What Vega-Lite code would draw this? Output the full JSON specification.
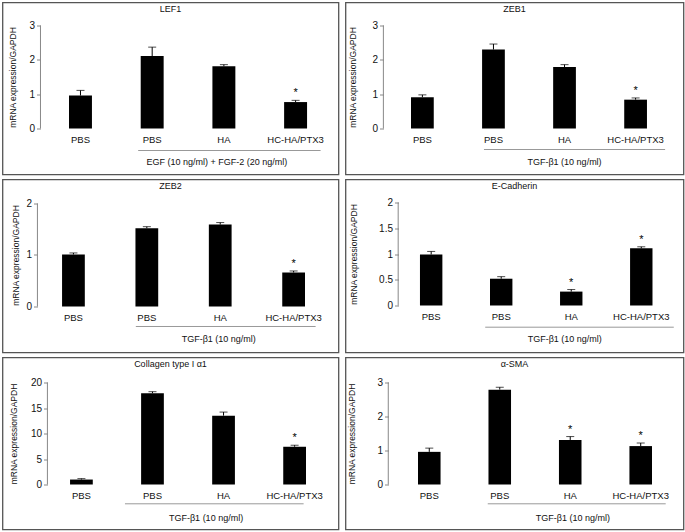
{
  "$schema": "https://vega.github.io/schema/vega-lite/v6.json",
  "padding": {"left": 1.5, "top": 1.5, "right": 0, "bottom": 0},
  "spacing": 3,
  "datasets": {
    "bars": [
      {"gene": "LEF1", "sample": "PBS control", "value": 0.96, "upper": 1.11, "sig": ""},
      {"gene": "LEF1", "sample": "PBS", "value": 2.11, "upper": 2.37, "sig": ""},
      {"gene": "LEF1", "sample": "HA", "value": 1.81, "upper": 1.86, "sig": ""},
      {"gene": "LEF1", "sample": "HC-HA/PTX3", "value": 0.77, "upper": 0.82, "sig": "*"},
      {"gene": "ZEB1", "sample": "PBS control", "value": 0.91, "upper": 0.98, "sig": ""},
      {"gene": "ZEB1", "sample": "PBS", "value": 2.30, "upper": 2.46, "sig": ""},
      {"gene": "ZEB1", "sample": "HA", "value": 1.79, "upper": 1.86, "sig": ""},
      {"gene": "ZEB1", "sample": "HC-HA/PTX3", "value": 0.84, "upper": 0.89, "sig": "*"},
      {"gene": "ZEB2", "sample": "PBS control", "value": 1.01, "upper": 1.04, "sig": ""},
      {"gene": "ZEB2", "sample": "PBS", "value": 1.52, "upper": 1.55, "sig": ""},
      {"gene": "ZEB2", "sample": "HA", "value": 1.59, "upper": 1.63, "sig": ""},
      {"gene": "ZEB2", "sample": "HC-HA/PTX3", "value": 0.66, "upper": 0.69, "sig": "*"},
      {"gene": "E-Cadherin", "sample": "PBS control", "value": 0.99, "upper": 1.05, "sig": ""},
      {"gene": "E-Cadherin", "sample": "PBS", "value": 0.52, "upper": 0.56, "sig": ""},
      {"gene": "E-Cadherin", "sample": "HA", "value": 0.27, "upper": 0.31, "sig": "*"},
      {"gene": "E-Cadherin", "sample": "HC-HA/PTX3", "value": 1.11, "upper": 1.14, "sig": "*"},
      {"gene": "Collagen type I α1", "sample": "PBS control", "value": 0.97, "upper": 1.15, "sig": ""},
      {"gene": "Collagen type I α1", "sample": "PBS", "value": 17.9, "upper": 18.2, "sig": ""},
      {"gene": "Collagen type I α1", "sample": "HA", "value": 13.5, "upper": 14.2, "sig": ""},
      {"gene": "Collagen type I α1", "sample": "HC-HA/PTX3", "value": 7.4, "upper": 7.7, "sig": "*"},
      {"gene": "α-SMA", "sample": "PBS control", "value": 0.96, "upper": 1.07, "sig": ""},
      {"gene": "α-SMA", "sample": "PBS", "value": 2.79, "upper": 2.86, "sig": ""},
      {"gene": "α-SMA", "sample": "HA", "value": 1.31, "upper": 1.41, "sig": "*"},
      {"gene": "α-SMA", "sample": "HC-HA/PTX3", "value": 1.13, "upper": 1.22, "sig": "*"}
    ],
    "groups": [
      {"gene": "LEF1", "label": "EGF (10 ng/ml) + FGF-2 (20 ng/ml)", "from": "PBS", "to": "HC-HA/PTX3", "mid": "HA", "first": "PBS control", "axisMin": 0, "axisMax": 3},
      {"gene": "ZEB1", "label": "TGF-β1 (10 ng/ml)", "from": "PBS", "to": "HC-HA/PTX3", "mid": "HA", "first": "PBS control", "axisMin": 0, "axisMax": 3},
      {"gene": "ZEB2", "label": "TGF-β1 (10 ng/ml)", "from": "PBS", "to": "HC-HA/PTX3", "mid": "HA", "first": "PBS control", "axisMin": 0, "axisMax": 2},
      {"gene": "E-Cadherin", "label": "TGF-β1 (10 ng/ml)", "from": "PBS", "to": "HC-HA/PTX3", "mid": "HA", "first": "PBS control", "axisMin": 0, "axisMax": 2},
      {"gene": "Collagen type I α1", "label": "TGF-β1 (10 ng/ml)", "from": "PBS", "to": "HC-HA/PTX3", "mid": "HA", "first": "PBS control", "axisMin": 0, "axisMax": 20},
      {"gene": "α-SMA", "label": "TGF-β1 (10 ng/ml)", "from": "PBS", "to": "HC-HA/PTX3", "mid": "HA", "first": "PBS control", "axisMin": 0, "axisMax": 3}
    ]
  },
  "vconcat": [
    {
      "hconcat": [
        {
          "width": 336, "height": 172, "title": "LEF1",
          "layer": [
            {"data": {"name": "bars"}, "transform": [{"filter": "datum.gene === 'LEF1'"}],
             "mark": {"type": "bar", "color": "#000"},
             "encoding": {
               "x": {"field": "sample", "type": "nominal", "title": null, "scale": {"domain": ["PBS control", "PBS", "HA", "HC-HA/PTX3"], "paddingInner": 0.68, "paddingOuter": 0.683, "align": 0.679}, "axis": {"offset": -46, "labelExpr": "datum.label === 'PBS control' ? 'PBS' : datum.label"}},
               "y": {"field": "value", "type": "quantitative", "title": "mRNA expression/GAPDH", "scale": {"domain": [-1.3398, 3.6699], "nice": false, "zero": false}, "axis": {"offset": -38, "values": [0, 1, 2, 3], "format": "~g", "titleX": -28, "titleY": 74.5}}
             }},
            {"data": {"name": "groups"}, "transform": [{"filter": "datum.gene === 'LEF1'"}],
             "mark": {"type": "rule", "color": "#888", "strokeWidth": 1, "xOffset": -40},
             "encoding": {"x": {"field": "first", "type": "nominal"}, "y": {"field": "axisMin", "type": "quantitative"}, "y2": {"field": "axisMax"}}},
            {"data": {"name": "bars"}, "transform": [{"filter": "datum.gene === 'LEF1'"}],
             "mark": {"type": "rule", "color": "#000", "strokeWidth": 1},
             "encoding": {"x": {"field": "sample", "type": "nominal"}, "y": {"field": "value", "type": "quantitative"}, "y2": {"field": "upper"}}},
            {"data": {"name": "bars"}, "transform": [{"filter": "datum.gene === 'LEF1'"}],
             "mark": {"type": "tick", "color": "#000", "size": 8, "thickness": 1},
             "encoding": {"x": {"field": "sample", "type": "nominal"}, "y": {"field": "upper", "type": "quantitative"}}},
            {"data": {"name": "bars"}, "transform": [{"filter": "datum.gene === 'LEF1'"}],
             "mark": {"type": "text", "color": "#000", "fontSize": 11, "dy": -4, "baseline": "alphabetic"},
             "encoding": {"x": {"field": "sample", "type": "nominal"}, "y": {"field": "upper", "type": "quantitative"}, "text": {"field": "sig"}}},
            {"data": {"name": "groups"}, "transform": [{"filter": "datum.gene === 'LEF1'"}],
             "mark": {"type": "rule", "color": "#999", "strokeWidth": 1, "yOffset": 22, "xOffset": -14, "x2Offset": 25},
             "encoding": {"x": {"field": "from", "type": "nominal"}, "x2": {"field": "to"}, "y": {"field": "axisMin", "type": "quantitative"}}},
            {"data": {"name": "groups"}, "transform": [{"filter": "datum.gene === 'LEF1'"}],
             "mark": {"type": "text", "color": "#111", "fontSize": 9, "yOffset": 33, "dx": -7, "baseline": "middle"},
             "encoding": {"x": {"field": "mid", "type": "nominal"}, "y": {"field": "axisMin", "type": "quantitative"}, "text": {"field": "label"}}}
          ]
        },
        {
          "width": 338, "height": 172, "title": "ZEB1",
          "layer": [
            {"data": {"name": "bars"}, "transform": [{"filter": "datum.gene === 'ZEB1'"}],
             "mark": {"type": "bar", "color": "#000"},
             "encoding": {
               "x": {"field": "sample", "type": "nominal", "title": null, "scale": {"domain": ["PBS control", "PBS", "HA", "HC-HA/PTX3"], "paddingInner": 0.68, "paddingOuter": 0.718, "align": 0.642}, "axis": {"offset": -46, "labelExpr": "datum.label === 'PBS control' ? 'PBS' : datum.label"}},
               "y": {"field": "value", "type": "quantitative", "title": "mRNA expression/GAPDH", "scale": {"domain": [-1.3398, 3.6699], "nice": false, "zero": false}, "axis": {"offset": -38, "values": [0, 1, 2, 3], "format": "~g", "titleX": -31, "titleY": 74.5}}
             }},
            {"data": {"name": "groups"}, "transform": [{"filter": "datum.gene === 'ZEB1'"}],
             "mark": {"type": "rule", "color": "#888", "strokeWidth": 1, "xOffset": -39},
             "encoding": {"x": {"field": "first", "type": "nominal"}, "y": {"field": "axisMin", "type": "quantitative"}, "y2": {"field": "axisMax"}}},
            {"data": {"name": "bars"}, "transform": [{"filter": "datum.gene === 'ZEB1'"}],
             "mark": {"type": "rule", "color": "#000", "strokeWidth": 1},
             "encoding": {"x": {"field": "sample", "type": "nominal"}, "y": {"field": "value", "type": "quantitative"}, "y2": {"field": "upper"}}},
            {"data": {"name": "bars"}, "transform": [{"filter": "datum.gene === 'ZEB1'"}],
             "mark": {"type": "tick", "color": "#000", "size": 8, "thickness": 1},
             "encoding": {"x": {"field": "sample", "type": "nominal"}, "y": {"field": "upper", "type": "quantitative"}}},
            {"data": {"name": "bars"}, "transform": [{"filter": "datum.gene === 'ZEB1'"}],
             "mark": {"type": "text", "color": "#000", "fontSize": 11, "dy": -4, "baseline": "alphabetic"},
             "encoding": {"x": {"field": "sample", "type": "nominal"}, "y": {"field": "upper", "type": "quantitative"}, "text": {"field": "sig"}}},
            {"data": {"name": "groups"}, "transform": [{"filter": "datum.gene === 'ZEB1'"}],
             "mark": {"type": "rule", "color": "#999", "strokeWidth": 1, "yOffset": 21, "xOffset": -9.5, "x2Offset": 29.5},
             "encoding": {"x": {"field": "from", "type": "nominal"}, "x2": {"field": "to"}, "y": {"field": "axisMin", "type": "quantitative"}}},
            {"data": {"name": "groups"}, "transform": [{"filter": "datum.gene === 'ZEB1'"}],
             "mark": {"type": "text", "color": "#111", "fontSize": 9, "yOffset": 33, "dx": 0, "baseline": "middle"},
             "encoding": {"x": {"field": "mid", "type": "nominal"}, "y": {"field": "axisMin", "type": "quantitative"}, "text": {"field": "label"}}}
          ]
        }
      ],
      "spacing": 5
    },
    {
      "hconcat": [
        {
          "width": 336, "height": 173, "title": "ZEB2",
          "layer": [
            {"data": {"name": "bars"}, "transform": [{"filter": "datum.gene === 'ZEB2'"}],
             "mark": {"type": "bar", "color": "#000"},
             "encoding": {
               "x": {"field": "sample", "type": "nominal", "title": null, "scale": {"domain": ["PBS control", "PBS", "HA", "HC-HA/PTX3"], "paddingInner": 0.69, "paddingOuter": 0.634, "align": 0.64}, "axis": {"offset": -46, "labelExpr": "datum.label === 'PBS control' ? 'PBS' : datum.label"}},
               "y": {"field": "value", "type": "quantitative", "title": "mRNA expression/GAPDH", "scale": {"domain": [-0.8932, 2.466], "nice": false, "zero": false}, "axis": {"offset": -35, "values": [0, 1, 2], "format": "~g", "titleX": -22, "titleY": 75.5}}
             }},
            {"data": {"name": "groups"}, "transform": [{"filter": "datum.gene === 'ZEB2'"}],
             "mark": {"type": "rule", "color": "#888", "strokeWidth": 1, "xOffset": -36},
             "encoding": {"x": {"field": "first", "type": "nominal"}, "y": {"field": "axisMin", "type": "quantitative"}, "y2": {"field": "axisMax"}}},
            {"data": {"name": "bars"}, "transform": [{"filter": "datum.gene === 'ZEB2'"}],
             "mark": {"type": "rule", "color": "#000", "strokeWidth": 1},
             "encoding": {"x": {"field": "sample", "type": "nominal"}, "y": {"field": "value", "type": "quantitative"}, "y2": {"field": "upper"}}},
            {"data": {"name": "bars"}, "transform": [{"filter": "datum.gene === 'ZEB2'"}],
             "mark": {"type": "tick", "color": "#000", "size": 8, "thickness": 1},
             "encoding": {"x": {"field": "sample", "type": "nominal"}, "y": {"field": "upper", "type": "quantitative"}}},
            {"data": {"name": "bars"}, "transform": [{"filter": "datum.gene === 'ZEB2'"}],
             "mark": {"type": "text", "color": "#000", "fontSize": 11, "dy": -4, "baseline": "alphabetic"},
             "encoding": {"x": {"field": "sample", "type": "nominal"}, "y": {"field": "upper", "type": "quantitative"}, "text": {"field": "sig"}}},
            {"data": {"name": "groups"}, "transform": [{"filter": "datum.gene === 'ZEB2'"}],
             "mark": {"type": "rule", "color": "#999", "strokeWidth": 1, "yOffset": 20, "xOffset": -11, "x2Offset": 22},
             "encoding": {"x": {"field": "from", "type": "nominal"}, "x2": {"field": "to"}, "y": {"field": "axisMin", "type": "quantitative"}}},
            {"data": {"name": "groups"}, "transform": [{"filter": "datum.gene === 'ZEB2'"}],
             "mark": {"type": "text", "color": "#111", "fontSize": 9, "yOffset": 33, "dx": -1.5, "baseline": "middle"},
             "encoding": {"x": {"field": "mid", "type": "nominal"}, "y": {"field": "axisMin", "type": "quantitative"}, "text": {"field": "label"}}}
          ]
        },
        {
          "width": 338, "height": 173, "title": "E-Cadherin",
          "layer": [
            {"data": {"name": "bars"}, "transform": [{"filter": "datum.gene === 'E-Cadherin'"}],
             "mark": {"type": "bar", "color": "#000"},
             "encoding": {
               "x": {"field": "sample", "type": "nominal", "title": null, "scale": {"domain": ["PBS control", "PBS", "HA", "HC-HA/PTX3"], "paddingInner": 0.68, "paddingOuter": 0.753, "align": 0.706}, "axis": {"offset": -47, "labelExpr": "datum.label === 'PBS control' ? 'PBS' : datum.label"}},
               "y": {"field": "value", "type": "quantitative", "title": "mRNA expression/GAPDH", "scale": {"domain": [-0.9126, 2.4466], "nice": false, "zero": false}, "axis": {"offset": -53, "values": [0, 0.5, 1, 1.5, 2], "format": "~g", "titleX": -45.5, "titleY": 74.5}}
             }},
            {"data": {"name": "groups"}, "transform": [{"filter": "datum.gene === 'E-Cadherin'"}],
             "mark": {"type": "rule", "color": "#888", "strokeWidth": 1, "xOffset": -33},
             "encoding": {"x": {"field": "first", "type": "nominal"}, "y": {"field": "axisMin", "type": "quantitative"}, "y2": {"field": "axisMax"}}},
            {"data": {"name": "bars"}, "transform": [{"filter": "datum.gene === 'E-Cadherin'"}],
             "mark": {"type": "rule", "color": "#000", "strokeWidth": 1},
             "encoding": {"x": {"field": "sample", "type": "nominal"}, "y": {"field": "value", "type": "quantitative"}, "y2": {"field": "upper"}}},
            {"data": {"name": "bars"}, "transform": [{"filter": "datum.gene === 'E-Cadherin'"}],
             "mark": {"type": "tick", "color": "#000", "size": 8, "thickness": 1},
             "encoding": {"x": {"field": "sample", "type": "nominal"}, "y": {"field": "upper", "type": "quantitative"}}},
            {"data": {"name": "bars"}, "transform": [{"filter": "datum.gene === 'E-Cadherin'"}],
             "mark": {"type": "text", "color": "#000", "fontSize": 11, "dy": -4, "baseline": "alphabetic"},
             "encoding": {"x": {"field": "sample", "type": "nominal"}, "y": {"field": "upper", "type": "quantitative"}, "text": {"field": "sig"}}},
            {"data": {"name": "groups"}, "transform": [{"filter": "datum.gene === 'E-Cadherin'"}],
             "mark": {"type": "rule", "color": "#999", "strokeWidth": 1, "yOffset": 21.7, "xOffset": -16, "x2Offset": 32.5},
             "encoding": {"x": {"field": "from", "type": "nominal"}, "x2": {"field": "to"}, "y": {"field": "axisMin", "type": "quantitative"}}},
            {"data": {"name": "groups"}, "transform": [{"filter": "datum.gene === 'E-Cadherin'"}],
             "mark": {"type": "text", "color": "#111", "fontSize": 9, "yOffset": 33, "dx": -6.5, "baseline": "middle"},
             "encoding": {"x": {"field": "mid", "type": "nominal"}, "y": {"field": "axisMin", "type": "quantitative"}, "text": {"field": "label"}}}
          ]
        }
      ],
      "spacing": 5
    },
    {
      "hconcat": [
        {
          "width": 336, "height": 172, "title": "Collagen type I α1",
          "layer": [
            {"data": {"name": "bars"}, "transform": [{"filter": "datum.gene === 'Collagen type I α1'"}],
             "mark": {"type": "bar", "color": "#000"},
             "encoding": {
               "x": {"field": "sample", "type": "nominal", "title": null, "scale": {"domain": ["PBS control", "PBS", "HA", "HC-HA/PTX3"], "paddingInner": 0.68, "paddingOuter": 0.704, "align": 0.675}, "axis": {"offset": -45, "labelExpr": "datum.label === 'PBS control' ? 'PBS' : datum.label"}},
               "y": {"field": "value", "type": "quantitative", "title": "mRNA expression/GAPDH", "scale": {"domain": [-8.8235, 24.902], "nice": false, "zero": false}, "axis": {"offset": -45, "values": [0, 5, 10, 15, 20], "format": "~g", "titleX": -34.5, "titleY": 76}}
             }},
            {"data": {"name": "groups"}, "transform": [{"filter": "datum.gene === 'Collagen type I α1'"}],
             "mark": {"type": "rule", "color": "#888", "strokeWidth": 1, "xOffset": -34},
             "encoding": {"x": {"field": "first", "type": "nominal"}, "y": {"field": "axisMin", "type": "quantitative"}, "y2": {"field": "axisMax"}}},
            {"data": {"name": "bars"}, "transform": [{"filter": "datum.gene === 'Collagen type I α1'"}],
             "mark": {"type": "rule", "color": "#000", "strokeWidth": 1},
             "encoding": {"x": {"field": "sample", "type": "nominal"}, "y": {"field": "value", "type": "quantitative"}, "y2": {"field": "upper"}}},
            {"data": {"name": "bars"}, "transform": [{"filter": "datum.gene === 'Collagen type I α1'"}],
             "mark": {"type": "tick", "color": "#000", "size": 8, "thickness": 1},
             "encoding": {"x": {"field": "sample", "type": "nominal"}, "y": {"field": "upper", "type": "quantitative"}}},
            {"data": {"name": "bars"}, "transform": [{"filter": "datum.gene === 'Collagen type I α1'"}],
             "mark": {"type": "text", "color": "#000", "fontSize": 11, "dy": -4, "baseline": "alphabetic"},
             "encoding": {"x": {"field": "sample", "type": "nominal"}, "y": {"field": "upper", "type": "quantitative"}, "text": {"field": "sig"}}},
            {"data": {"name": "groups"}, "transform": [{"filter": "datum.gene === 'Collagen type I α1'"}],
             "mark": {"type": "rule", "color": "#999", "strokeWidth": 1, "yOffset": 19.3, "xOffset": -27.5, "x2Offset": 9},
             "encoding": {"x": {"field": "from", "type": "nominal"}, "x2": {"field": "to"}, "y": {"field": "axisMin", "type": "quantitative"}}},
            {"data": {"name": "groups"}, "transform": [{"filter": "datum.gene === 'Collagen type I α1'"}],
             "mark": {"type": "text", "color": "#111", "fontSize": 9, "yOffset": 33, "dx": -17.5, "baseline": "middle"},
             "encoding": {"x": {"field": "mid", "type": "nominal"}, "y": {"field": "axisMin", "type": "quantitative"}, "text": {"field": "label"}}}
          ]
        },
        {
          "width": 338, "height": 172, "title": "α-SMA",
          "layer": [
            {"data": {"name": "bars"}, "transform": [{"filter": "datum.gene === 'α-SMA'"}],
             "mark": {"type": "bar", "color": "#000"},
             "encoding": {
               "x": {"field": "sample", "type": "nominal", "title": null, "scale": {"domain": ["PBS control", "PBS", "HA", "HC-HA/PTX3"], "paddingInner": 0.68, "paddingOuter": 0.738, "align": 0.697}, "axis": {"offset": -45, "labelExpr": "datum.label === 'PBS control' ? 'PBS' : datum.label"}},
               "y": {"field": "value", "type": "quantitative", "title": "mRNA expression/GAPDH", "scale": {"domain": [-1.3235, 3.7353], "nice": false, "zero": false}, "axis": {"offset": -43, "values": [0, 1, 2, 3], "format": "~g", "titleX": -37, "titleY": 76}}
             }},
            {"data": {"name": "groups"}, "transform": [{"filter": "datum.gene === 'α-SMA'"}],
             "mark": {"type": "rule", "color": "#888", "strokeWidth": 1, "xOffset": -41},
             "encoding": {"x": {"field": "first", "type": "nominal"}, "y": {"field": "axisMin", "type": "quantitative"}, "y2": {"field": "axisMax"}}},
            {"data": {"name": "bars"}, "transform": [{"filter": "datum.gene === 'α-SMA'"}],
             "mark": {"type": "rule", "color": "#000", "strokeWidth": 1},
             "encoding": {"x": {"field": "sample", "type": "nominal"}, "y": {"field": "value", "type": "quantitative"}, "y2": {"field": "upper"}}},
            {"data": {"name": "bars"}, "transform": [{"filter": "datum.gene === 'α-SMA'"}],
             "mark": {"type": "tick", "color": "#000", "size": 8, "thickness": 1},
             "encoding": {"x": {"field": "sample", "type": "nominal"}, "y": {"field": "upper", "type": "quantitative"}}},
            {"data": {"name": "bars"}, "transform": [{"filter": "datum.gene === 'α-SMA'"}],
             "mark": {"type": "text", "color": "#000", "fontSize": 11, "dy": -4, "baseline": "alphabetic"},
             "encoding": {"x": {"field": "sample", "type": "nominal"}, "y": {"field": "upper", "type": "quantitative"}, "text": {"field": "sig"}}},
            {"data": {"name": "groups"}, "transform": [{"filter": "datum.gene === 'α-SMA'"}],
             "mark": {"type": "rule", "color": "#999", "strokeWidth": 1, "yOffset": 19.3, "xOffset": -12, "x2Offset": 25},
             "encoding": {"x": {"field": "from", "type": "nominal"}, "x2": {"field": "to"}, "y": {"field": "axisMin", "type": "quantitative"}}},
            {"data": {"name": "groups"}, "transform": [{"filter": "datum.gene === 'α-SMA'"}],
             "mark": {"type": "text", "color": "#111", "fontSize": 9, "yOffset": 33, "dx": 2.7, "baseline": "middle"},
             "encoding": {"x": {"field": "mid", "type": "nominal"}, "y": {"field": "axisMin", "type": "quantitative"}, "text": {"field": "label"}}}
          ]
        }
      ],
      "spacing": 5
    }
  ],
  "config": {
    "font": "Liberation Sans",
    "view": {"stroke": "#555", "strokeWidth": 1.3},
    "axis": {"grid": false, "labelFont": "Liberation Sans", "titleFont": "Liberation Sans", "labelColor": "#111", "titleColor": "#111", "domainColor": "#888", "tickColor": "#888"},
    "axisY": {"domain": false, "labelFontSize": 10, "tickSize": 4, "labelPadding": 2, "titleFontSize": 8.5, "titleFontWeight": "normal", "titleBaseline": "middle"},
    "axisX": {"domain": false, "ticks": false, "labelFontSize": 9.5, "labelBaseline": "middle", "labelPadding": 11, "labelAngle": 0},
    "title": {"font": "Liberation Sans", "fontSize": 9, "fontWeight": "normal", "color": "#111", "baseline": "middle", "offset": -11, "frame": "group"}
  }
}
